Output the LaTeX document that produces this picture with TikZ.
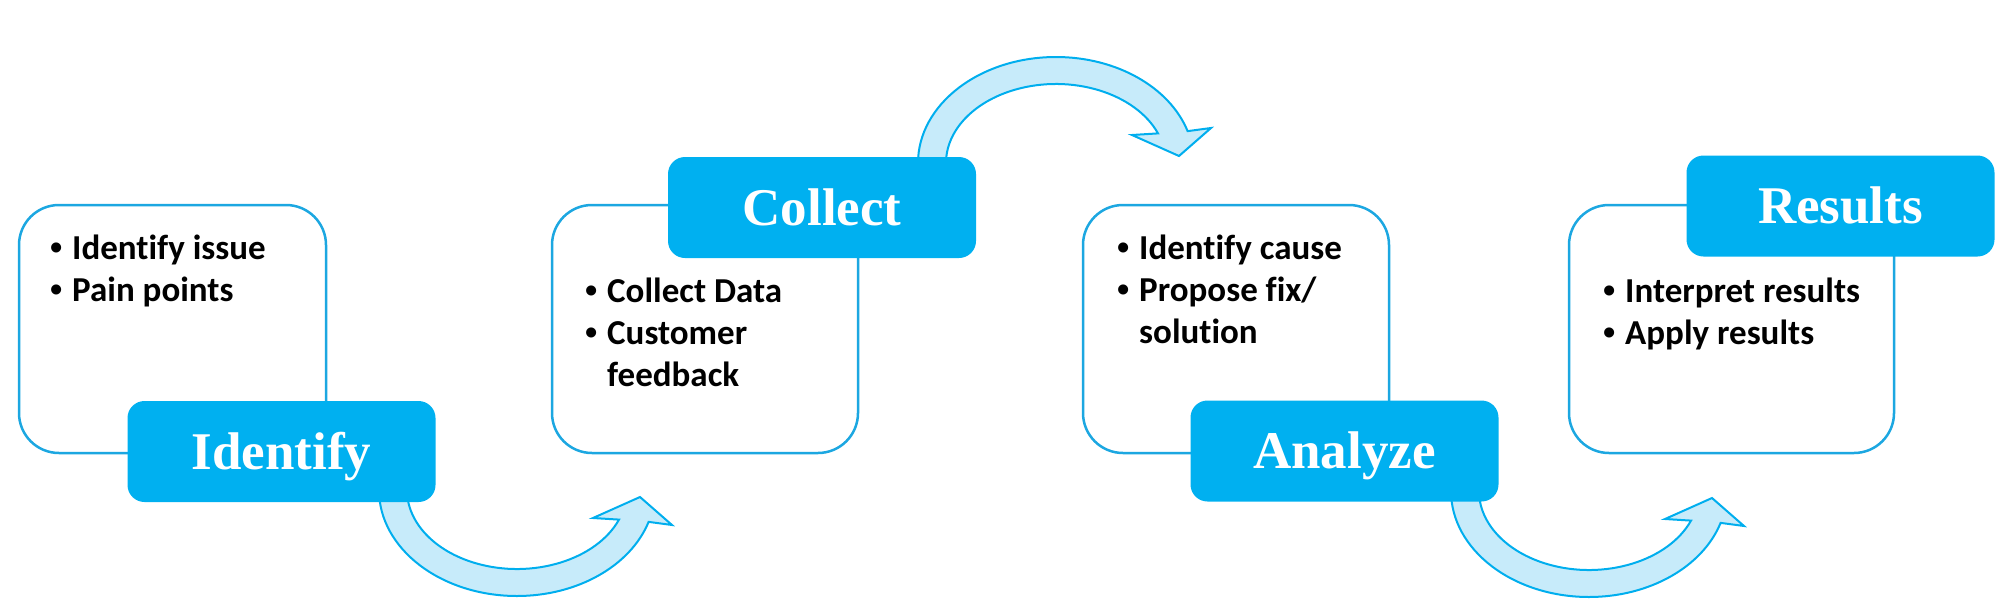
\documentclass[tikz,border=0pt]{standalone}
\usepackage{fontspec}
\newfontfamily\itemfont{Carlito}[Ligatures=NoCommon]
\newfontfamily\labelfont{Liberation Serif}
\newfontfamily\bulletfont{Liberation Sans}
\definecolor{labelblue}{RGB}{0,176,240}
\definecolor{frameblue}{RGB}{28,167,225}
\definecolor{arrowfill}{RGB}{199,235,250}
\definecolor{arrowline}{RGB}{0,174,238}
\begin{document}
\begin{tikzpicture}[x=1pt, y=-1pt]
    \tikzstyle{box_style} = [draw=frameblue, line width=2.5pt, rounded corners=40pt, fill=white, inner sep=0pt]
    \tikzstyle{label_style} = [fill=labelblue, rounded corners=17pt, text=white, font=\labelfont\bfseries\fontsize{53}{58}\selectfont, minimum width=308pt, minimum height=101pt, text height=35pt, text depth=0pt, inner sep=0pt]
    \tikzstyle{item_style} = [anchor=base west, inner sep=0pt, font=\itemfont\bfseries\fontsize{35}{42}\selectfont]
    \tikzstyle{arrow_style} = [draw=arrowline, fill=arrowfill, line width=2pt]
    \useasboundingbox (0,0) rectangle (2005,608);

    % curved arrows, drawn first so the labels cover their tails
    \begin{scope}[shift={(517,490)}]
    \filldraw[arrow_style] (-138,0) arc[start angle=180, end angle=17.5, x radius=138, y radius=106] -- (155,35) -- (123,7) -- (76,28) -- (102,29.6) arc[start angle=22, end angle=180, x radius=110, y radius=79] -- cycle;
    \end{scope}
    \begin{scope}[shift={(1056,163)}, yscale=-1]
    \filldraw[arrow_style] (-138,0) arc[start angle=180, end angle=17.5, x radius=138, y radius=106] -- (155,35) -- (123,7) -- (76,28) -- (102,29.6) arc[start angle=22, end angle=180, x radius=110, y radius=79] -- cycle;
    \end{scope}
    \begin{scope}[shift={(1589,491)}]
    \filldraw[arrow_style] (-138,0) arc[start angle=180, end angle=17.5, x radius=138, y radius=106] -- (155,35) -- (123,7) -- (76,28) -- (102,29.6) arc[start angle=22, end angle=180, x radius=110, y radius=79] -- cycle;
    \end{scope}

    \node[box_style, minimum width=307pt, minimum height=248pt] (box1) at (172.5,329) {};
    \node[box_style, minimum width=306pt, minimum height=248pt] (box2) at (705,329) {};
    \node[box_style, minimum width=306pt, minimum height=248pt] (box3) at (1236,329) {};
    \node[box_style, minimum width=325pt, minimum height=248pt] (box4) at (1731.5,329) {};

    \node[label_style] (identify) at (281.5,451.5) {Identify};
    \node[label_style] (collect) at (822,207.5) {Collect};
    \node[label_style] (analyze) at (1344.5,451) {Analyze};
    \node[label_style] (results) at (1840.5,206) {Results};

    \node[item_style] (items1) at (50,259) {\begin{tabular}[t]{@{}p{22pt}@{}l@{}}{\bulletfont •} & Identify issue\\ {\bulletfont •} & Pain points\end{tabular}};
    \node[item_style] (items2) at (585,302) {\begin{tabular}[t]{@{}p{22pt}@{}l@{}}{\bulletfont •} & Collect Data\\ {\bulletfont •} & Customer\\ & feedback\end{tabular}};
    \node[item_style] (items3) at (1117,259) {\begin{tabular}[t]{@{}p{22pt}@{}l@{}}{\bulletfont •} & Identify cause\\ {\bulletfont •} & Propose fix/\\ & solution\end{tabular}};
    \node[item_style] (items4) at (1603,302) {\begin{tabular}[t]{@{}p{22pt}@{}l@{}}{\bulletfont •} & Interpret results\\ {\bulletfont •} & Apply results\end{tabular}};
\end{tikzpicture}
\end{document}
